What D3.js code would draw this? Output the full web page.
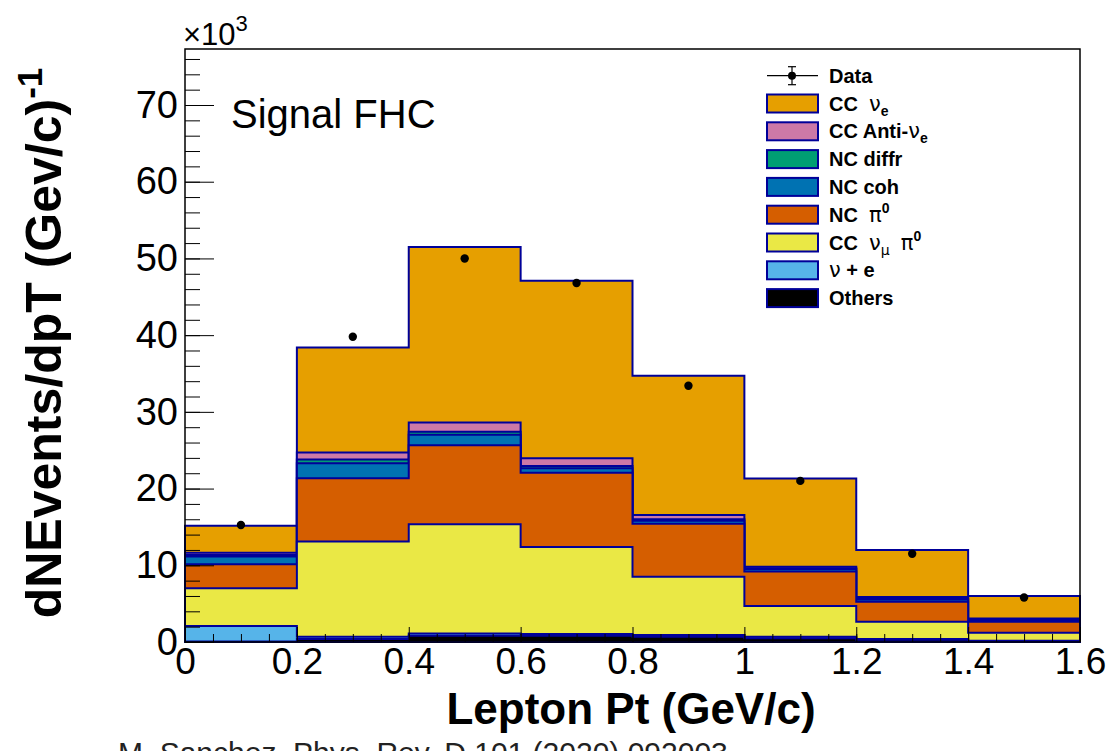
<!DOCTYPE html>
<html>
<head>
<meta charset="utf-8">
<script src="https://cdn.jsdelivr.net/npm/d3@7"></script>
<style>
  html, body { margin: 0; padding: 0; background: #fff; }
  svg { display: block; }
  text { font-family: "Liberation Sans", Arial, sans-serif; }
  .legend text { white-space: pre; }
</style>
</head>
<body>
<svg id="chart" width="1115" height="751"></svg>
<script>
// Lepton Pt bins (GeV/c)
const binEdges = [0, 0.2, 0.4, 0.6, 0.8, 1.0, 1.2, 1.4, 1.6];

// Stacked MC components, in units of 10^3 events per GeV/c (bottom of stack first)
const others     = [0.05, 0.4, 0.8, 0.8, 0.7, 0.5, 0.3, 0.1];
const nuPlusE    = [2.05, 0.3, 0.3, 0.25, 0.2, 0.2, 0.1, 0.05];
const ccNumuPi0  = [4.9, 12.4, 14.25, 11.35, 7.6, 4.0, 2.25, 1.05];
const ncPi0      = [3.15, 8.25, 10.3, 9.65, 6.9, 4.5, 2.6, 1.45];
const ncCoh      = [1.0, 1.95, 1.35, 0.6, 0.4, 0.3, 0.3, 0.2];
const ncDiffr    = [0.2, 0.5, 0.4, 0.3, 0.2, 0.1, 0.1, 0.05];
const ccAntiNue  = [0.3, 0.9, 1.2, 1.0, 0.55, 0.2, 0.2, 0.15];
const ccNue      = [3.5, 13.7, 22.9, 23.15, 18.15, 11.5, 6.15, 2.95];

// Data points (bin centres)
const dataValues = [15.25, 39.8, 50.0, 46.8, 33.4, 21.0, 11.5, 5.8];

// Axis ticks
const xTickValues = [0, 0.2, 0.4, 0.6, 0.8, 1.0, 1.2, 1.4, 1.6];
const xTickLabels = ["0", "0.2", "0.4", "0.6", "0.8", "1", "1.2", "1.4", "1.6"];
const yTickValues = [0, 10, 20, 30, 40, 50, 60, 70];
const yTickLabels = ["0", "10", "20", "30", "40", "50", "60", "70"];

// Stack definition, bottom to top
const seriesKeys   = ["others", "nuPlusE", "ccNumuPi0", "ncPi0", "ncCoh", "ncDiffr", "ccAntiNue", "ccNue"];
const seriesValues = [others, nuPlusE, ccNumuPi0, ncPi0, ncCoh, ncDiffr, ccAntiNue, ccNue];
const seriesColors = ["#000000", "#56B4E9", "#EAE845", "#D55E00", "#0072B2", "#009E73", "#CC79A7", "#E69F00"];

const svg = d3.select("#chart");
const plotLeft = 185, plotRight = 1080, plotTop = 49, plotBottom = 642;
const yMax = 77.3;

const x = d3.scaleLinear().domain([0, 1.6]).range([plotLeft, plotRight]);
const y = d3.scaleLinear().domain([0, yMax]).range([plotBottom, plotTop]);

// Table for d3.stack
const rows = binEdges.slice(0, -1).map((e, i) => {
  const r = { lo: e, hi: binEdges[i + 1] };
  seriesKeys.forEach((k, j) => { r[k] = seriesValues[j][i]; });
  return r;
});
const stacked = d3.stack().keys(seriesKeys)(rows);

const area = d3.area()
  .x(d => x(d.x))
  .y0(y(0))
  .y1(d => y(d.v))
  .curve(d3.curveStepAfter);

const outline = "#000099";

// Each cumulative histogram is drawn filled from zero, top of stack first
const gStack = svg.append("g");
stacked.slice().reverse().forEach(s => {
  const pts = s.map(d => ({ x: d.data.lo, v: d[1] }));
  pts.push({ x: binEdges[binEdges.length - 1], v: s[s.length - 1][1] });
  const idx = seriesKeys.indexOf(s.key);
  gStack.append("path")
    .attr("d", area(pts))
    .attr("fill", seriesColors[idx])
    .attr("stroke", outline)
    .attr("stroke-width", 2)
    .attr("stroke-linejoin", "miter");
});

// Axes (ticks drawn inward, over the histograms)
const yMinor = d3.range(0, 77, 2);
svg.append("g").attr("transform", `translate(${plotLeft},0)`)
  .call(d3.axisLeft(y).tickValues(yMinor).tickSize(-15).tickFormat(""))
  .call(g => g.select(".domain").remove())
  .call(g => g.selectAll("line").attr("stroke", "#000").attr("stroke-width", 1));

svg.append("g").attr("transform", `translate(${plotLeft},0)`)
  .call(d3.axisLeft(y).tickValues(yTickValues).tickSize(-29).tickPadding(7)
        .tickFormat((d, i) => yTickLabels[i]))
  .call(g => g.select(".domain").remove())
  .call(g => g.selectAll("line").attr("stroke", "#000").attr("stroke-width", 1))
  .call(g => g.selectAll("text")
        .attr("font-family", "Liberation Sans, Arial, sans-serif")
        .attr("font-size", 38).attr("fill", "#000"));

const xMinor = d3.range(0, 1.6001, 0.05);
svg.append("g").attr("transform", `translate(0,${plotBottom})`)
  .call(d3.axisBottom(x).tickValues(xMinor).tickSize(-8).tickFormat(""))
  .call(g => g.select(".domain").remove())
  .call(g => g.selectAll("line").attr("stroke", "#000").attr("stroke-width", 1));

svg.append("g").attr("transform", `translate(0,${plotBottom})`)
  .call(d3.axisBottom(x).tickValues(xTickValues).tickSize(-15).tickPadding(6)
        .tickFormat((d, i) => xTickLabels[i]))
  .call(g => g.select(".domain").remove())
  .call(g => g.selectAll("line").attr("stroke", "#000").attr("stroke-width", 1))
  .call(g => g.selectAll("text")
        .attr("font-family", "Liberation Sans, Arial, sans-serif")
        .attr("font-size", 37).attr("fill", "#000"));

// Frame
svg.append("rect")
  .attr("x", plotLeft).attr("y", plotTop)
  .attr("width", plotRight - plotLeft).attr("height", plotBottom - plotTop)
  .attr("fill", "none").attr("stroke", "#000").attr("stroke-width", 1.5);

// Data points
svg.append("g").selectAll("circle")
  .data(dataValues)
  .join("circle")
  .attr("cx", (d, i) => x((binEdges[i] + binEdges[i + 1]) / 2))
  .attr("cy", d => y(d))
  .attr("r", 4.2)
  .attr("fill", "#000");

// Exponent label
const expo = svg.append("text").attr("x", 183).attr("y", 45)
  .attr("font-size", 31).attr("fill", "#000");
expo.append("tspan").text("×10");
expo.append("tspan").attr("font-size", 22).attr("dy", -14).text("3");

// Title inside frame
svg.append("text")
  .attr("x", 231).attr("y", 128)
  .attr("font-family", "Lato, 'Open Sans', sans-serif")
  .attr("font-size", 40).attr("fill", "#000")
  .text("Signal FHC");

// Axis titles
const yTitle = svg.append("text")
  .attr("transform", "translate(61,343) rotate(-90)")
  .attr("text-anchor", "middle")
  .attr("font-weight", "bold").attr("font-size", 50).attr("fill", "#000");
yTitle.append("tspan").text("dNEvents/dpT (Gev/c)");
yTitle.append("tspan").attr("font-size", 35).attr("dy", -19).text("-1");

svg.append("text")
  .attr("x", 631).attr("y", 724)
  .attr("text-anchor", "middle")
  .attr("font-weight", "bold").attr("font-size", 44).attr("fill", "#000")
  .text("Lepton Pt (GeV/c)");

// Reference line at the foot of the slide
svg.append("text")
  .attr("x", 118).attr("y", 763)
  .attr("font-size", 30).attr("fill", "#222")
  .text("M. Sanchez, Phys. Rev. D 101 (2020) 092003");

// Legend
const legendColors = [null, "#E69F00", "#CC79A7", "#009E73", "#0072B2", "#D55E00", "#EAE845", "#56B4E9", "#000000"];
const lg = svg.append("g").attr("class", "legend");
const rowY = i => 75.7 + 27.8 * i;

legendColors.forEach((c, i) => {
  const cy = rowY(i);
  if (c === null) {
    lg.append("line").attr("x1", 767).attr("x2", 818).attr("y1", cy).attr("y2", cy)
      .attr("stroke", "#000").attr("stroke-width", 1.2);
    lg.append("line").attr("x1", 792).attr("x2", 792).attr("y1", cy - 9).attr("y2", cy + 9)
      .attr("stroke", "#000").attr("stroke-width", 1.2);
    lg.append("line").attr("x1", 788).attr("x2", 796).attr("y1", cy - 9).attr("y2", cy - 9)
      .attr("stroke", "#000").attr("stroke-width", 1.2);
    lg.append("line").attr("x1", 788).attr("x2", 796).attr("y1", cy + 9).attr("y2", cy + 9)
      .attr("stroke", "#000").attr("stroke-width", 1.2);
    lg.append("circle").attr("cx", 792).attr("cy", cy).attr("r", 4).attr("fill", "#000");
  } else {
    lg.append("rect").attr("x", 767).attr("y", cy - 9).attr("width", 51).attr("height", 18)
      .attr("fill", c).attr("stroke", outline).attr("stroke-width", 2);
  }
});

// Legend texts with Greek symbols, subscripts and superscripts
function legendText(i, parts) {
  const t = lg.append("text").attr("x", 829).attr("y", rowY(i) + 7)
    .attr("font-weight", "bold").attr("font-size", 20).attr("fill", "#000");
  parts.forEach(p => {
    const s = t.append("tspan").text(p.t);
    if (p.greek) s.attr("font-weight", "normal").attr("font-family", "DejaVu Sans, sans-serif").attr("font-size", 21);
    if (p.sub) s.attr("font-size", 14).attr("dy", 5);
    if (p.sup) s.attr("font-size", 14).attr("dy", -9);
    if (p.dy) s.attr("dy", p.dy);
  });
}
legendText(0, [{ t: "Data" }]);
legendText(1, [{ t: "CC  " }, { t: "ν", greek: true }, { t: "e", sub: true }]);
legendText(2, [{ t: "CC Anti-" }, { t: "ν", greek: true }, { t: "e", sub: true }]);
legendText(3, [{ t: "NC diffr" }]);
legendText(4, [{ t: "NC coh" }]);
legendText(5, [{ t: "NC  " }, { t: "π", greek: true }, { t: "0", sup: true }]);
legendText(6, [{ t: "CC  " }, { t: "ν", greek: true }, { t: "μ", sub: true, greek: true }, { t: "  ", dy: -5 }, { t: "π", greek: true }, { t: "0", sup: true }]);
legendText(7, [{ t: "ν", greek: true }, { t: " + e" }]);
legendText(8, [{ t: "Others" }]);
</script>
</body>
</html>
